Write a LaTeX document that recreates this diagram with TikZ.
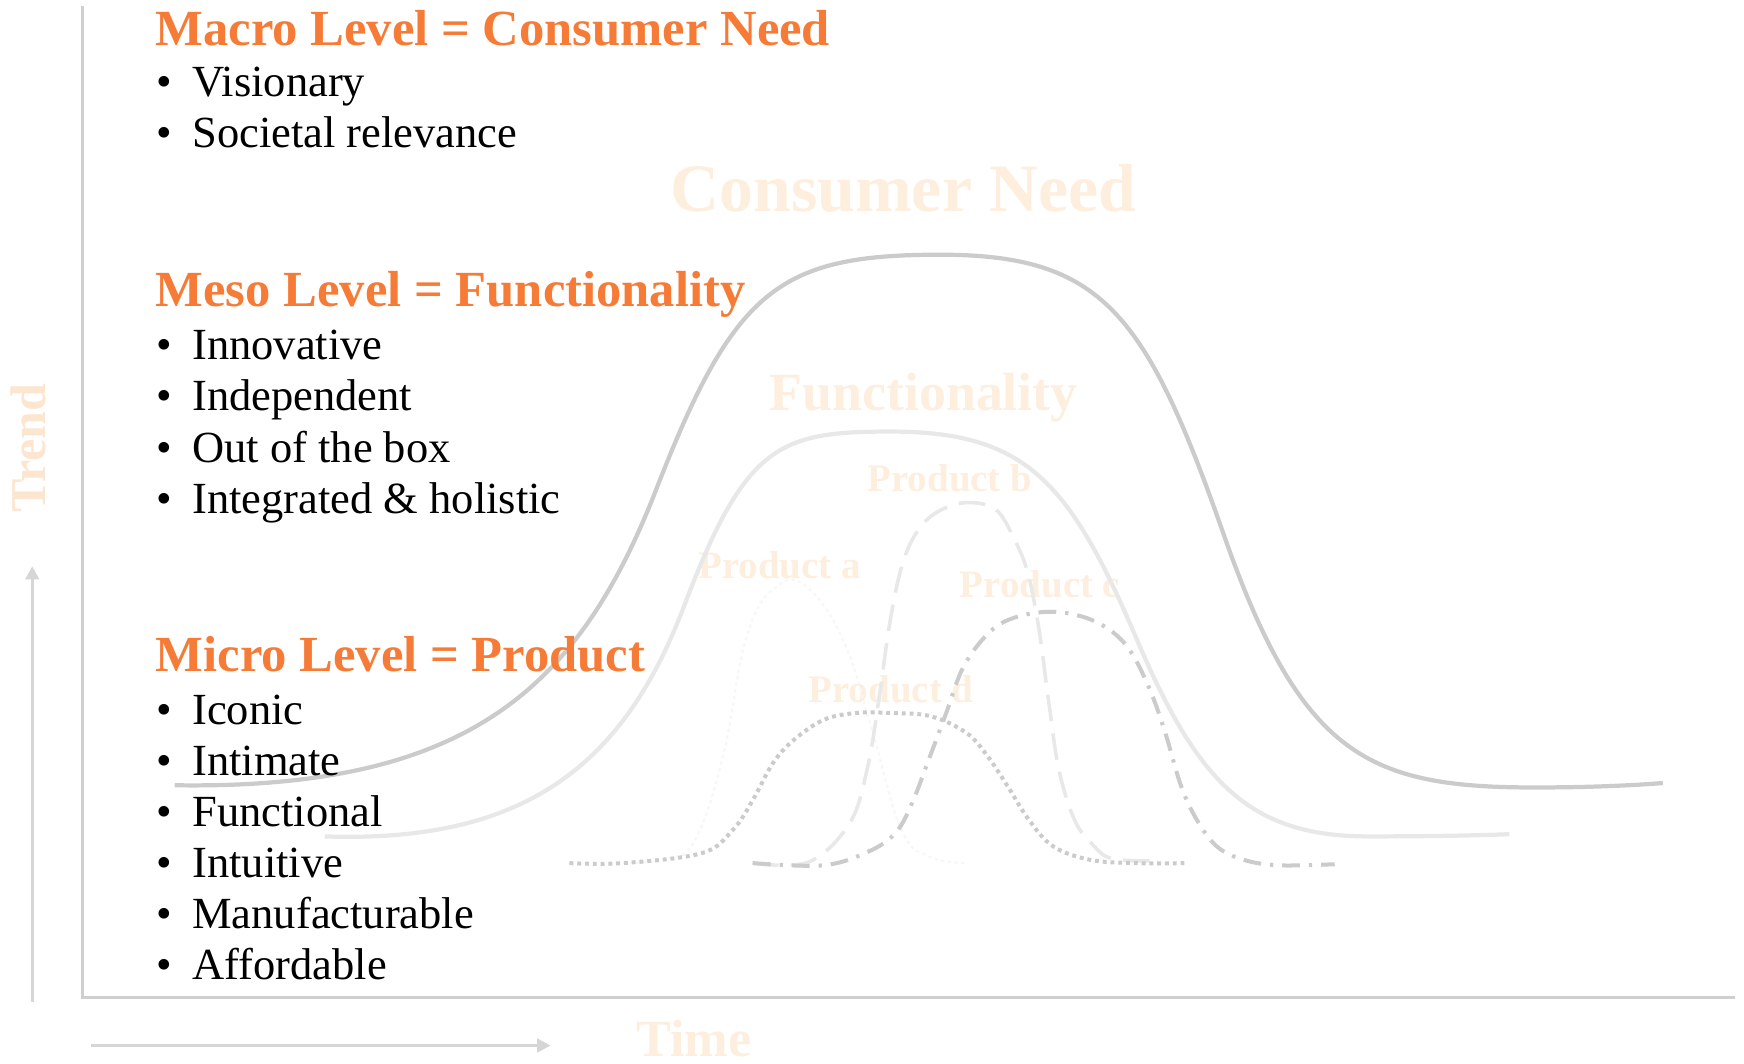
\documentclass[tikz,border=0pt]{standalone}
\usepackage{fontspec}
\setmainfont{Liberation Serif}
\usetikzlibrary{arrows.meta}
\definecolor{hdorange}{HTML}{F57B36}
\definecolor{faintor}{HTML}{FDEEDD}
\definecolor{faintor2}{HTML}{FCE6CF}
\definecolor{axisgray}{HTML}{CFCFCF}
\definecolor{darkcurve}{HTML}{CBCBCB}
\definecolor{lightcurve}{HTML}{E8E8E8}
\definecolor{ghost}{HTML}{F7F7F7}
\begin{document}
\begin{tikzpicture}[x=1pt,y=-1pt,
  every node/.style={inner sep=0pt,outer sep=0pt},
  head/.style={anchor=base west,text=hdorange,font=\fontsize{45.5}{50}\selectfont\bfseries},
  item/.style={anchor=base west,font=\fontsize{40}{44}\selectfont},
  bul/.style={anchor=base west,font=\fontsize{40}{44}\selectfont},
  faintlbl/.style={anchor=base west,text=faintor,font=\fontsize{#1}{#1}\selectfont\bfseries},
  axisline/.style={draw=axisgray,line width=3.2pt},
  arrowline/.style={draw=axisgray!85,line width=3pt,-{Triangle[length=12pt,width=12pt]}},
  curveline/.style={line width=3.8pt,line cap=butt}
]
\useasboundingbox (0,0) rectangle (1568,956);

% faint labels
\node[faintlbl=61] (lcn) at (603,190) {Consumer Need};
\node[faintlbl=48.4] (lfn) at (692,369) {Functionality};
\node[faintlbl=35] (lpb) at (780,442) {Product b};
\node[faintlbl=35] (lpa) at (628,520) {Product a};
\node[faintlbl=35] (lpc) at (863,537) {Product c};
\node[faintlbl=35] (lpd) at (727,632) {Product d};
\node[text=faintor2,font=\fontsize{45}{45}\selectfont\bfseries,rotate=90,anchor=base] (ltrend) at (41,403) {Trend};
\node[text=faintor,font=\fontsize{47}{47}\selectfont\bfseries,anchor=base west] (ltime) at (572,950) {Time};

% axes
\coordinate (ax0) at (74,897);
\coordinate (axtop) at (74,5);
\coordinate (axright) at (1560,897);
\draw[axisline] (axtop) -- (ax0) -- (axright);
\coordinate (tr0) at (29,901);
\coordinate (tr1) at (29,509);
\draw[arrowline] (tr0) -- (tr1);
\coordinate (ti0) at (82,940);
\coordinate (ti1) at (495,940);
\draw[arrowline] (ti0) -- (ti1);

% ghost curve (Product a)
\draw[ghost,line width=2pt,dash pattern=on 3pt off 3pt] plot[smooth,tension=0.7] coordinates {(560,776) (600,772) (625,755) (650,680) (672,570) (700,526) (728,530) (760,580) (785,660) (810,745) (835,770) (870,776)};

% Consumer Need curve
\draw[darkcurve,curveline] (157,706) .. controls (420,710) and (520,620) .. (590,440)
  .. controls (660,260) and (700,229) .. (845,229)
  .. controls (990,229) and (1030,280) .. (1100,480)
  .. controls (1170,680) and (1230,708) .. (1380,708)
  .. controls (1430,708) and (1470,706) .. (1495,704);

% Functionality curve
\draw[lightcurve,curveline] (292,752) .. controls (470,758) and (560,690) .. (615,545)
  .. controls (670,400) and (700,388) .. (800,388)
  .. controls (920,388) and (960,430) .. (1020,570)
  .. controls (1075,700) and (1120,752) .. (1230,752)
  .. controls (1290,752) and (1330,751) .. (1357,750);

% Product b (dashed)
\draw[lightcurve,line width=3.2pt,dash pattern=on 24pt off 11pt] plot[smooth,tension=0.6] coordinates {(676,776) (727,775) (764,740) (780,690) (790,630) (800,560) (810,512) (822,482) (840,462) (867,452) (895,458) (912,485) (924,515) (934,565) (943,632) (952,692) (966,737) (982,759) (1000,772) (1040,774)};

% Product c (dash dot)
\draw[darkcurve,line width=3.6pt,dash pattern=on 16pt off 8pt on 3pt off 8pt] plot[smooth,tension=0.6] coordinates {(677,776) (740,778) (780,766) (805,749) (820,722) (835,683) (850,643) (866,600) (888,570) (910,556) (943,550) (975,555) (1000,568) (1018,588) (1035,623) (1048,660) (1062,707) (1076,737) (1094,761) (1118,773) (1150,778) (1200,777)};

% Product d (dotted)
\draw[darkcurve,line width=3.6pt,dash pattern=on 3.5pt off 3.5pt] plot[smooth,tension=0.6] coordinates {(512,776) (560,776) (631,767) (659,746) (677,719) (695,686) (714,665) (741,647) (770,641) (801,641) (837,644) (869,659) (888,680) (906,707) (925,737) (947,761) (980,773) (1020,776) (1068,776)};

% Macro
\node[head] (hmacro) at (140,41) {Macro Level = Consumer Need};
\node[bul] (b1) at (141,87) {•};
\node[item] (i1) at (173,87) {Visionary};
\node[bul] (b2) at (141,133) {•};
\node[item] (i2) at (173,133) {Societal relevance};
% Meso
\node[head] (hmeso) at (140,276) {Meso Level = Functionality};
\node[bul] (b3) at (141,323) {•};
\node[item] (i3) at (173,323) {Innovative};
\node[bul] (b4) at (141,369) {•};
\node[item] (i4) at (173,369) {Independent};
\node[bul] (b5) at (141,416) {•};
\node[item] (i5) at (173,416) {Out of the box};
\node[bul] (b6) at (141,462) {•};
\node[item] (i6) at (173,462) {Integrated \& holistic};
% Micro
\node[head] (hmicro) at (140,604) {Micro Level = Product};
\node[bul] (b7) at (141,651) {•};
\node[item] (i7) at (173,651) {Iconic};
\node[bul] (b8) at (141,697) {•};
\node[item] (i8) at (173,697) {Intimate};
\node[bul] (b9) at (141,743) {•};
\node[item] (i9) at (173,743) {Functional};
\node[bul] (b10) at (141,789) {•};
\node[item] (i10) at (173,789) {Intuitive};
\node[bul] (b11) at (141,835) {•};
\node[item] (i11) at (173,835) {Manufacturable};
\node[bul] (b12) at (141,881) {•};
\node[item] (i12) at (173,881) {Affordable};
\end{tikzpicture}
\end{document}
